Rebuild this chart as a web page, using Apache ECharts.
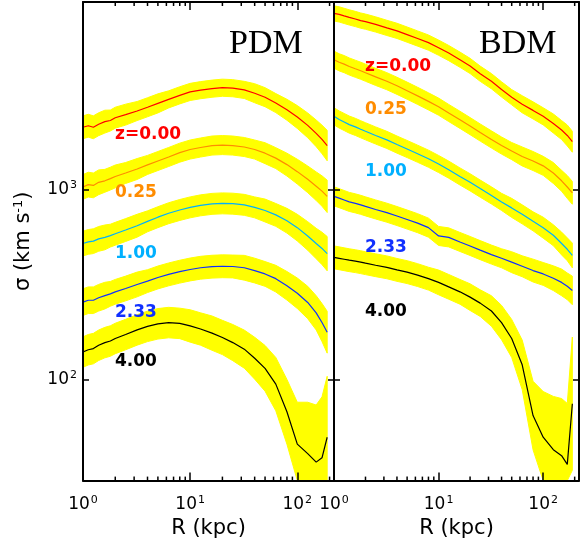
<!DOCTYPE html>
<html><head><meta charset="utf-8">
<script src="https://cdn.jsdelivr.net/npm/echarts@6/dist/echarts.min.js"></script>
<style>html,body{margin:0;padding:0;background:#fff}#c{width:582px;height:544px}</style>
</head><body><div id="c"></div>
<script>
// radius samples (kpc)
const R = [1,1.12,1.25,1.4,1.6,1.8,2,2.5,3.2,4,5,6.3,8,10,12.5,16,20,25,32,40,50,63,80,100,125,150,170,190];
const zLabels = ['z=0.00','0.25','1.00','2.33','4.00'];
const panelNames = ['PDM','BDM'];
const xTickMinor = [2,3,4,5,6,7,8,9,20,30,40,50,60,70,80,90,200];

// PDM sigma (km/s)
const pdmZ0 = [2120,2160,2120,2200,2270,2300,2380,2470,2580,2700,2830,2970,3120,3250,3320,3380,3420,3400,3330,3200,3050,2840,2620,2400,2170,1970,1830,1700];
const pdmZ1 = [1030,1060,1050,1090,1110,1140,1170,1220,1280,1345,1410,1480,1560,1620,1660,1700,1710,1700,1670,1620,1550,1460,1350,1240,1130,1040,980,920];
const pdmZ2 = [520,530,535,550,560,572,585,612,645,680,715,750,780,805,825,840,845,842,830,805,775,735,685,630,570,520,490,460];
const pdmZ3 = [256,262,262,270,277,283,290,302,317,330,345,358,370,380,388,393,395,394,388,375,360,340,312,285,255,225,200,178];
const pdmZ4 = [140,144,146,152,157,160,165,173,183,191,197,200,198,192,185,176,167,157,145,130,115,95,68,46,41,37,39,50];
// PDM scatter (dex)
const pdmE0 = [0.06,0.06,0.06,0.06,0.06,0.055,0.055,0.055,0.05,0.05,0.05,0.045,0.045,0.045,0.045,0.045,0.045,0.045,0.045,0.05,0.05,0.05,0.055,0.06,0.065,0.07,0.075,0.08];
const pdmE1 = [0.065,0.065,0.065,0.065,0.06,0.06,0.06,0.055,0.055,0.05,0.05,0.05,0.05,0.05,0.05,0.05,0.05,0.05,0.05,0.05,0.055,0.055,0.06,0.065,0.07,0.075,0.08,0.085];
const pdmE2 = [0.065,0.065,0.065,0.065,0.065,0.06,0.06,0.06,0.06,0.055,0.055,0.055,0.055,0.055,0.055,0.055,0.055,0.055,0.055,0.055,0.06,0.06,0.065,0.07,0.075,0.08,0.085,0.09];
const pdmE3 = [0.07,0.07,0.07,0.07,0.07,0.065,0.065,0.065,0.065,0.06,0.06,0.06,0.06,0.06,0.06,0.06,0.06,0.06,0.065,0.065,0.065,0.07,0.075,0.08,0.085,0.09,0.1,0.11];
const pdmE4 = [0.08,0.08,0.08,0.08,0.08,0.08,0.08,0.08,0.08,0.08,0.08,0.08,0.08,0.085,0.085,0.09,0.09,0.095,0.1,0.11,0.12,0.14,0.17,0.22,0.27,0.3,0.32,0.32];

// BDM sigma (km/s)
const bdmZ0 = [8400,8300,8150,8000,7850,7700,7600,7350,7050,6800,6500,6200,5900,5550,5200,4800,4450,4050,3700,3350,3050,2800,2600,2420,2220,2050,1920,1780];
const bdmZ1 = [4800,4650,4550,4420,4300,4200,4100,3900,3700,3500,3300,3100,2900,2720,2520,2320,2150,1990,1830,1700,1590,1490,1410,1330,1220,1110,1030,960];
const bdmZ2 = [2420,2330,2260,2190,2130,2070,2020,1920,1820,1720,1630,1540,1450,1360,1270,1170,1090,1010,930,860,800,740,680,630,575,520,485,450];
const bdmZ3 = [920,900,880,860,845,830,815,785,755,725,695,665,630,570,560,530,505,480,455,435,415,395,375,360,342,325,310,295];
const bdmZ4 = [440,435,430,425,420,415,410,400,390,378,368,355,340,325,308,290,272,253,230,200,165,120,65,50,43,40,36,75];
// BDM scatter (dex)
const bdmE0 = [0.04,0.04,0.04,0.04,0.04,0.04,0.04,0.04,0.04,0.04,0.04,0.04,0.04,0.04,0.04,0.04,0.04,0.04,0.04,0.04,0.04,0.045,0.045,0.045,0.05,0.05,0.055,0.055];
const bdmE1 = [0.045,0.045,0.045,0.045,0.045,0.045,0.045,0.045,0.045,0.045,0.045,0.045,0.045,0.045,0.045,0.045,0.045,0.045,0.045,0.045,0.045,0.05,0.05,0.05,0.055,0.055,0.06,0.06];
const bdmE2 = [0.045,0.045,0.045,0.045,0.045,0.045,0.045,0.045,0.045,0.045,0.045,0.045,0.045,0.045,0.045,0.045,0.045,0.045,0.045,0.045,0.05,0.05,0.05,0.055,0.055,0.06,0.06,0.065];
const bdmE3 = [0.05,0.05,0.05,0.05,0.05,0.05,0.05,0.05,0.05,0.05,0.05,0.05,0.05,0.05,0.05,0.05,0.05,0.05,0.05,0.05,0.055,0.055,0.06,0.06,0.065,0.07,0.07,0.075];
const bdmE4 = [0.06,0.06,0.06,0.06,0.06,0.06,0.06,0.06,0.06,0.06,0.06,0.06,0.06,0.065,0.065,0.065,0.07,0.07,0.08,0.09,0.1,0.13,0.18,0.24,0.28,0.3,0.32,0.35];

const colors = ['#ff0000','#ff8c00','#00b0ff','#1030ff','#000000'];
const panels = [
  {vals:[pdmZ0,pdmZ1,pdmZ2,pdmZ3,pdmZ4], errs:[pdmE0,pdmE1,pdmE2,pdmE3,pdmE4]},
  {vals:[bdmZ0,bdmZ1,bdmZ2,bdmZ3,bdmZ4], errs:[bdmE0,bdmE1,bdmE2,bdmE3,bdmE4]}
];

const FONT = '"DejaVu Sans", sans-serif';
function powLabel(v){
  const e = Math.log10(v);
  if (Math.abs(e - Math.round(e)) > 1e-6) return '';
  return '{a|10}{b|' + Math.round(e) + '}';
}
const richTick = {a:{fontSize:17, fontFamily:FONT, color:'#000'}, b:{fontSize:11, fontFamily:FONT, color:'#000', padding:[0,0,9,1]}};

function xAx(g, pos, lab){
  return {type:'log', logBase:10, gridIndex:g, position:pos, min:1, max:220, z:10,
    axisLine:{show:true, onZero:false, lineStyle:{color:'#000', width:2}},
    axisTick:{show:true, inside:true, length:8, lineStyle:{color:'#000', width:1.5}},
    splitLine:{show:false}, minorTick:{show:false},
    axisLabel:{show:lab, margin:14, formatter:powLabel, rich:richTick, showMinLabel:true, showMaxLabel:true},
    name: lab ? 'R (kpc)' : '', nameLocation:'middle', nameGap:36,
    nameTextStyle:{fontSize:21, fontFamily:FONT, color:'#000'}};
}
function yAx(g, pos, lab, nm){
  return {type:'log', logBase:10, gridIndex:g, position:pos, min:29.6, max:9640, z:10,
    axisLine:{show:true, onZero:false, lineStyle:{color:'#000', width:2}},
    axisTick:{show:true, inside:true, length:6, lineStyle:{color:'#000', width:1.5}},
    splitLine:{show:false}, minorTick:{show:false},
    axisLabel:{show:lab, margin:6, formatter:powLabel, rich:richTick},
    name: nm ? '{a|σ (km s}{b|-1}{a|)}' : '', nameLocation:'middle', nameGap:48, nameRotate:90,
    nameTextStyle:{rich:{a:{fontSize:21, fontFamily:FONT, color:'#000'}, b:{fontSize:13, fontFamily:FONT, color:'#000', padding:[0,0,10,0]}}}};
}

const series = [];
panels.forEach((p, g) => {
  p.vals.forEach((vals, k) => {
    const errs = p.errs[k];
    series.push({type:'custom', xAxisIndex:g*2, yAxisIndex:g*2, silent:true, z:1, clip:true,
      data:[[R[0], vals[0]]],
      renderItem:(params, api) => {
        const cs = params.coordSys;
        const top = [], bot = [];
        const cl = y => Math.max(cs.y, Math.min(cs.y + cs.height, y));
        for (let i = 0; i < R.length; i++) {
          const f = Math.pow(10, errs[i]);
          const a = api.coord([R[i], vals[i]*f]);
          const b = api.coord([R[i], vals[i]/f]);
          top.push([a[0], cl(a[1])]);
          bot.push([b[0], cl(b[1])]);
        }
        return {type:'polygon', shape:{points: top.concat(bot.reverse())}, style:{fill:'#ffff00', stroke:'#ffff00', lineWidth:1}};
      }});
  });
  p.vals.forEach((vals, k) => {
    series.push({type:'line', xAxisIndex:g*2, yAxisIndex:g*2, z:3, showSymbol:false, silent:true,
      data: R.map((r, i) => [r, vals[i]]),
      lineStyle:{color:colors[k], width:1.2}});
  });
  // minor ticks on bottom and top axes
  series.push({type:'custom', xAxisIndex:g*2, yAxisIndex:g*2, silent:true, z:11,
    data: xTickMinor.map(v => [v, 100]),
    renderItem:(params, api) => {
      const cs = params.coordSys;
      const x = api.coord([api.value(0), 100])[0];
      const yb = cs.y + cs.height, yt = cs.y;
      return {type:'group', children:[
        {type:'line', shape:{x1:x, y1:yb, x2:x, y2:yb-4}, style:{stroke:'#000', lineWidth:1.5}},
        {type:'line', shape:{x1:x, y1:yt, x2:x, y2:yt+4}, style:{stroke:'#000', lineWidth:1.5}}
      ]};
    }});
});

const lblFont = 'bold 17px "DejaVu Sans", sans-serif';
const pdmLblY = [135,193,254,313,362];
const bdmLblY = [67,110,172,248,312];
const graphics = [];
zLabels.forEach((t, k) => {
  graphics.push({type:'text', x:115, y:pdmLblY[k], z:20, style:{text:t, fill:colors[k], font:lblFont, verticalAlign:'middle'}});
  graphics.push({type:'text', x:365, y:bdmLblY[k], z:20, style:{text:t, fill:colors[k], font:lblFont, verticalAlign:'middle'}});
});
graphics.push({type:'text', x:229, y:44, z:20, style:{text:panelNames[0], fill:'#000', font:'34px "Liberation Serif", serif', verticalAlign:'middle'}});
graphics.push({type:'text', x:479, y:44, z:20, style:{text:panelNames[1], fill:'#000', font:'34px "Liberation Serif", serif', verticalAlign:'middle'}});

const chart = echarts.init(document.getElementById('c'), null, {renderer:'canvas'});
chart.setOption({
  animation:false,
  backgroundColor:'#fff',
  grid:[{left:83, top:2, width:251, height:480}, {left:334, top:2, width:246, height:480}],
  xAxis:[xAx(0,'bottom',true), xAx(0,'top',false), xAx(1,'bottom',true), xAx(1,'top',false)],
  yAxis:[yAx(0,'left',true,true), yAx(0,'right',false,false), yAx(1,'left',false,false), yAx(1,'right',false,false)],
  series: series,
  graphic: graphics
});
</script></body></html>
